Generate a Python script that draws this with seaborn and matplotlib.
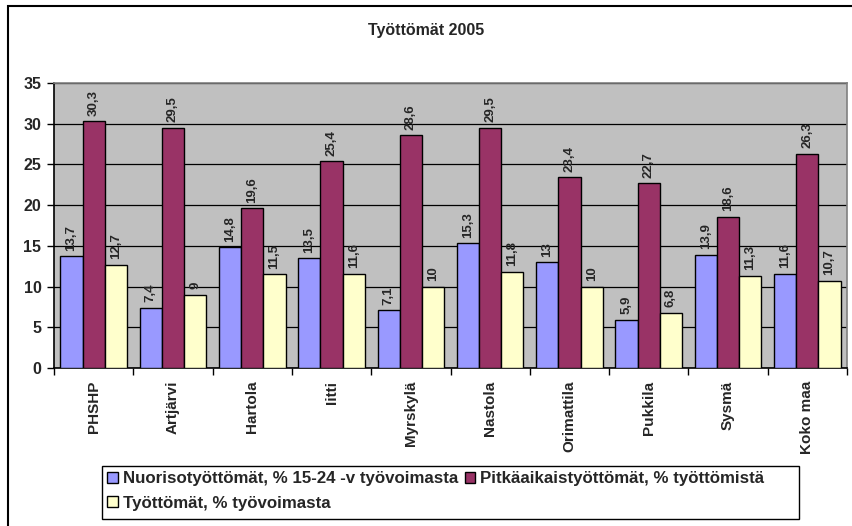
import numpy as np
import pandas as pd
import matplotlib
matplotlib.use("Agg")
import matplotlib.pyplot as plt
import seaborn as sns
from matplotlib.patches import Rectangle

# ── Data ─────────────────────────────────────────────────────────────────────
KUNNAT = ["PHSHP", "Artjärvi", "Hartola", "Iitti", "Myrskylä",
          "Nastola", "Orimattila", "Pukkila", "Sysmä", "Koko maa"]
NUORISO = [13.7, 7.4, 14.8, 13.5, 7.1, 15.3, 13.0, 5.9, 13.9, 11.6]
PITKA   = [30.3, 29.5, 19.6, 25.4, 28.6, 29.5, 23.4, 22.7, 18.6, 26.3]
TYOTTOM = [12.7, 9.0, 11.5, 11.6, 10.0, 11.8, 10.0, 6.8, 11.3, 10.7]

SERIES = ["Nuorisotyöttömät, % 15-24 -v työvoimasta",
          "Pitkäaikaistyöttömät, % työttömistä",
          "Työttömät, % työvoimasta"]
COLORS = ["#9999FF", "#993366", "#FFFFCC"]

df = pd.DataFrame({
    "kunta": KUNNAT * 3,
    "sarja": [s for s in SERIES for _ in KUNNAT],
    "arvo": NUORISO + PITKA + TYOTTOM,
})

sns.set_style("white")
plt.rcParams["font.family"] = ["Liberation Sans", "DejaVu Sans"]
plt.rcParams["font.weight"] = "bold"

fig = plt.figure(figsize=(8.52, 5.26), dpi=100)
ax = fig.add_axes([54 / 852, 1 - 368 / 526, (847 - 54) / 852, (368 - 83) / 526])
ax.set_facecolor("#C0C0C0")

sns.barplot(data=df, x="kunta", y="arvo", hue="sarja", hue_order=SERIES,
            palette=COLORS, width=0.84, gap=0, edgecolor="black",
            linewidth=1.0, saturation=1, ax=ax, legend=True, zorder=3)


def fmt(v):
    return f"{v:g}".replace(".", ",")


for cont, vals in zip(ax.containers, [NUORISO, PITKA, TYOTTOM]):
    ax.bar_label(cont, labels=[fmt(v) for v in vals], rotation=90,
                 padding=4, fontsize=9.5, fontweight="bold")

# axes, grid, ticks
ax.set_ylim(0, 35)
ax.set_xlim(-0.5, len(KUNNAT) - 0.5)
ax.set_yticks(range(0, 36, 5))
ax.yaxis.grid(True, color="black", linewidth=0.9, zorder=0)
ax.set_axisbelow(True)
ax.tick_params(axis="y", which="major", direction="out", length=5,
               width=1, color="black", labelsize=11.5, pad=4, left=True)
ax.set_xticks(range(len(KUNNAT)))
ax.set_xticklabels(KUNNAT, rotation=90, fontsize=11, fontweight="bold")
ax.tick_params(axis="x", which="major", length=0, pad=9)
ax.set_xticks(np.arange(-0.5, len(KUNNAT)), minor=True)
ax.tick_params(axis="x", which="minor", direction="out", length=5,
               width=1, color="black", bottom=True)
for lab in ax.get_yticklabels():
    lab.set_fontweight("bold")
ax.set_xlabel("")
ax.set_ylabel("")
for side in ["left", "bottom"]:
    ax.spines[side].set_color("black")
    ax.spines[side].set_linewidth(1.2)
for side in ["top", "right"]:
    ax.spines[side].set_color("#808080")
    ax.spines[side].set_linewidth(1.2)

# legend (row-wise order), box drawn separately like Excel
handles, labels = ax.get_legend_handles_labels()
ax.get_legend().remove()
order = [0, 2, 1]
leg = fig.legend([handles[i] for i in order], [labels[i] for i in order],
                 ncol=2, loc="upper left",
                 bbox_to_anchor=(104 / 852, 1 - 468 / 526),
                 frameon=False,
                 prop={"weight": "bold", "size": 12.2},
                 handlelength=0.6, handleheight=0.6, handletextpad=0.3,
                 columnspacing=0.4, labelspacing=0.55, borderpad=0.2,
                 borderaxespad=0)
fig.patches.append(Rectangle((102 / 852, 1 - 519 / 526), 697 / 852, 53 / 526,
                             transform=fig.transFigure, fill=False,
                             edgecolor="black", linewidth=1.0))

fig.text(0.5, 1 - 30 / 526, "Työttömät 2005", ha="center", va="center",
         fontsize=11.5, fontweight="bold")

# chart border
fig.patches.append(Rectangle((8 / 852, -0.05), 1.0, 1 - 6 / 526 + 0.05,
                             transform=fig.transFigure, fill=False,
                             edgecolor="black", linewidth=1.5))

fig.savefig("out.png", dpi=100)
